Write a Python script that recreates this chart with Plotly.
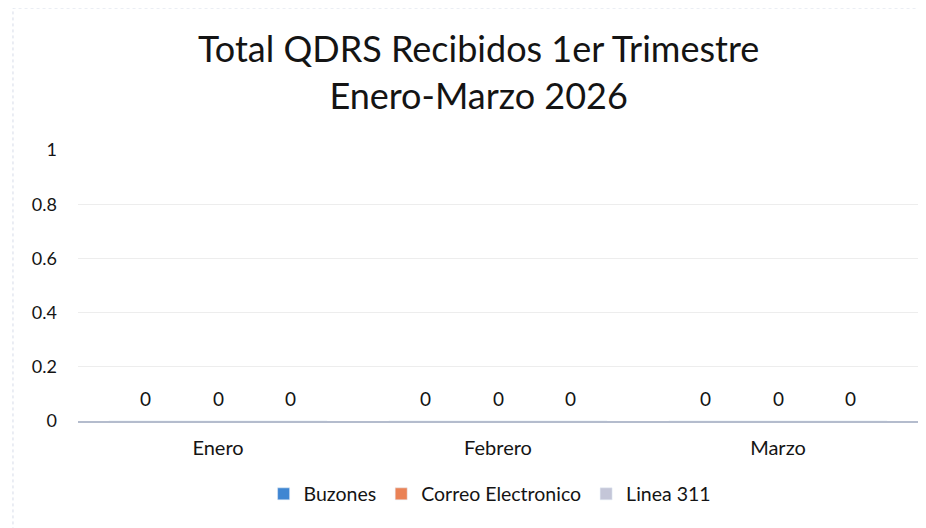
import plotly.graph_objects as go

months = ["Enero", "Febrero", "Marzo"]
series_names = ["Buzones", "Correo Electronico", "Linea 311"]
buzones = [0, 0, 0]
correo = [0, 0, 0]
linea311 = [0, 0, 0]
y_ticks = [0, 0.2, 0.4, 0.6, 0.8, 1]
y_tick_labels = ["0", "0.2", "0.4", "0.6", "0.8", "1"]
title_lines = ["Total QDRS Recibidos 1er Trimestre", "Enero-Marzo 2026"]
colors = ["#3f86d2", "#ea8256", "#c4c6d8"]

FONT = "Lato, 'Open Sans', sans-serif"
TXT = "#141414"
BARGAP = 0.22

all_series = [buzones, correo, linea311]
fig = go.Figure()
for name, vals, col in zip(series_names, all_series, colors):
    fig.add_trace(go.Bar(x=months, y=vals, name=name, marker_color=col, cliponaxis=False))

# data labels placed via the category axis (group offsets from bar geometry)
bar_w = (1 - BARGAP) / len(all_series)
annotations = []
for i, vals in enumerate(all_series):
    for j, v in enumerate(vals):
        annotations.append(dict(
            x=j + (i - (len(all_series) - 1) / 2) * bar_w, y=v, xref="x", yref="y",
            text=str(v), showarrow=False, yshift=23, yanchor="middle",
            font=dict(size=19, color=TXT, family=FONT)))

annotations.append(dict(
    x=0.477, y=1.29, xref="paper", yref="paper", xanchor="center", yanchor="middle",
    text="<br>".join(title_lines), showarrow=False,
    font=dict(size=36, color=TXT, family=FONT)))

# page body has an 8px margin, so the figure is sized to fill the rest of the window
fig.update_layout(
    width=918, height=520,
    paper_bgcolor="#ffffff", plot_bgcolor="#ffffff",
    margin=dict(l=70, r=8, t=142, b=107, autoexpand=False),
    barmode="group", bargap=BARGAP, bargroupgap=0,
    font=dict(family=FONT, color=TXT),
    legend=dict(orientation="h", x=0.49, xanchor="center", y=-0.27, yanchor="middle",
                font=dict(size=19.5, color=TXT), traceorder="normal", itemwidth=30),
    showlegend=True,
    annotations=annotations,
    shapes=[dict(type="rect", xref="paper", yref="paper", x0=-0.0774, x1=1.02,
                 y0=-0.45, y1=1.524, line=dict(color="#d6dce8", width=1, dash="dot"),
                 layer="below")],
)
fig.update_xaxes(showline=True, linecolor="#b4bccd", linewidth=2, ticks="",
                 tickfont=dict(size=20, color=TXT), showgrid=False, automargin=False,
                 ticklabelstandoff=8)
fig.update_yaxes(range=[0, 1], tickvals=y_ticks, ticktext=y_tick_labels,
                 showgrid=True, gridcolor="#ededed", gridwidth=1, zeroline=False,
                 tickfont=dict(size=18, color=TXT), ticklabelstandoff=20, automargin=False)

fig.write_html("out.html")
